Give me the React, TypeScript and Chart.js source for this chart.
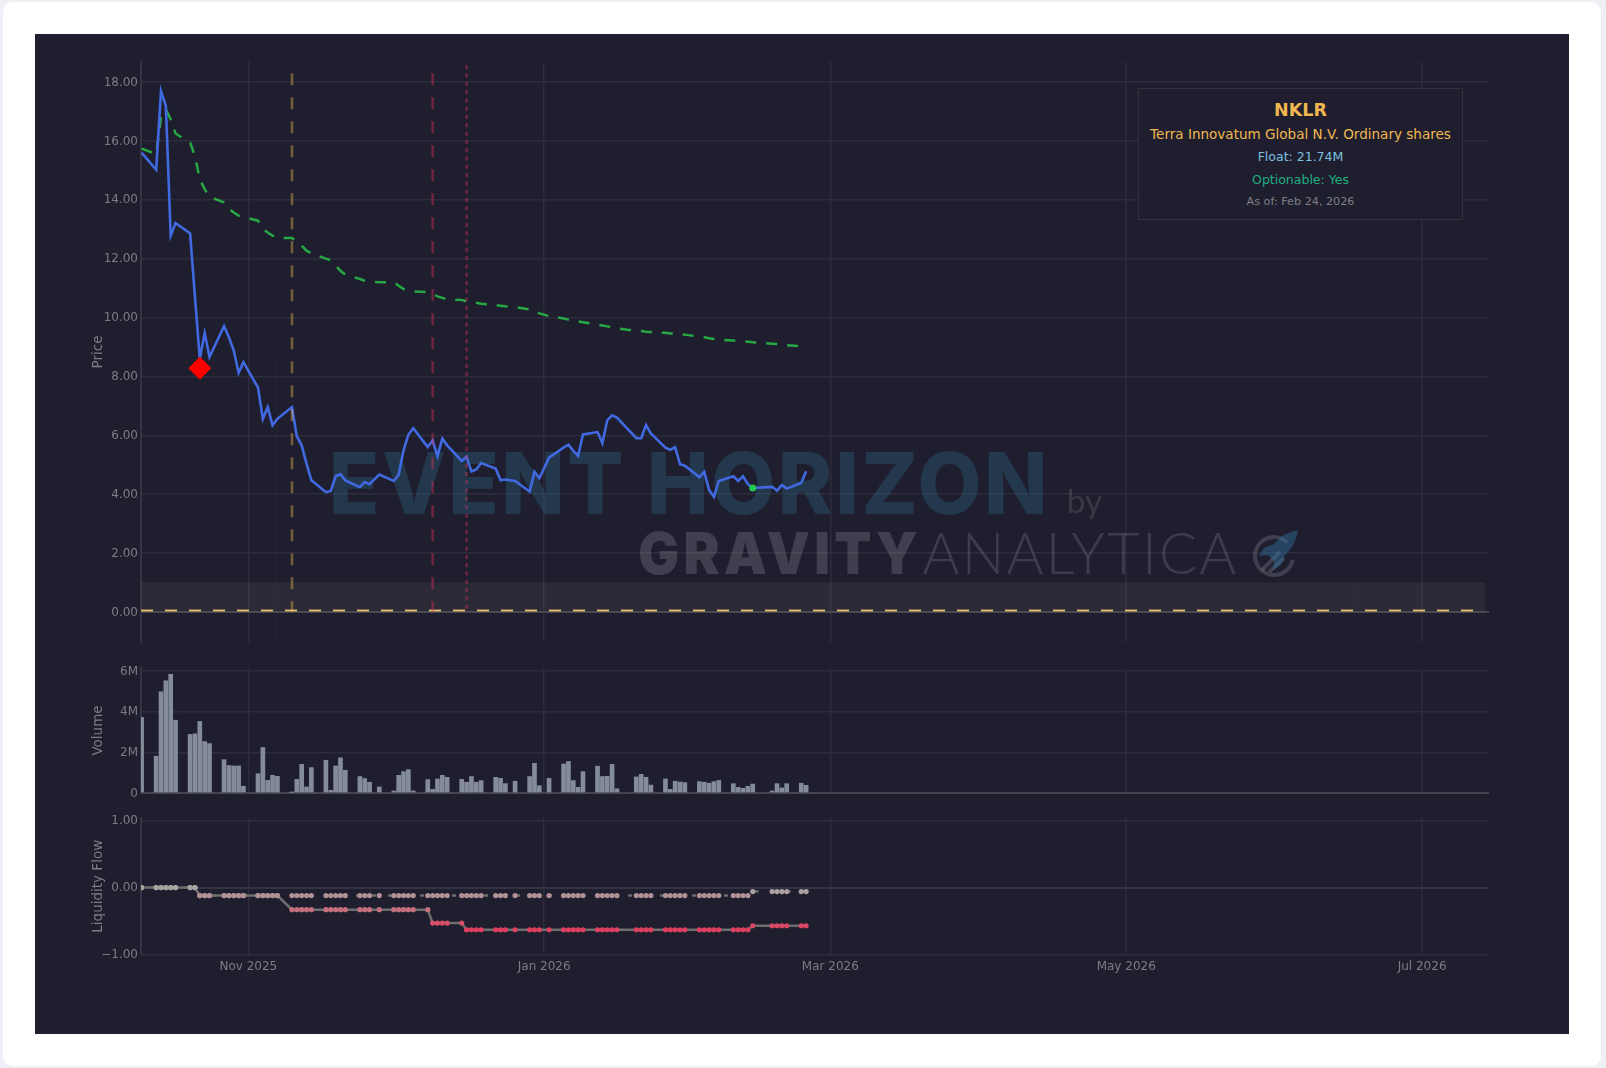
import React, { useEffect, useRef } from "react";
import { Chart, registerables } from "chart.js";

Chart.register(...registerables);

const FONT = '"DejaVu Sans", sans-serif';
const BG = "#1e1e2e";
const GRID = "#2c2c3c";
const TICK = "#7c7c88";

const dates = [
  "2025-10-10","2025-10-13","2025-10-14","2025-10-15","2025-10-16","2025-10-17","2025-10-20","2025-10-21","2025-10-22","2025-10-23","2025-10-24","2025-10-27","2025-10-28","2025-10-29","2025-10-30","2025-10-31",
  "2025-11-03","2025-11-04","2025-11-05","2025-11-06","2025-11-07","2025-11-10","2025-11-11","2025-11-12","2025-11-13","2025-11-14","2025-11-17","2025-11-18","2025-11-19","2025-11-20","2025-11-21","2025-11-24","2025-11-25","2025-11-26","2025-11-28",
  "2025-12-01","2025-12-02","2025-12-03","2025-12-04","2025-12-05","2025-12-08","2025-12-09","2025-12-10","2025-12-11","2025-12-12","2025-12-15","2025-12-16","2025-12-17","2025-12-18","2025-12-19","2025-12-22","2025-12-23","2025-12-24","2025-12-26","2025-12-29","2025-12-30","2025-12-31",
  "2026-01-02","2026-01-05","2026-01-06","2026-01-07","2026-01-08","2026-01-09","2026-01-12","2026-01-13","2026-01-14","2026-01-15","2026-01-16","2026-01-20","2026-01-21","2026-01-22","2026-01-23","2026-01-26","2026-01-27","2026-01-28","2026-01-29","2026-01-30",
  "2026-02-02","2026-02-03","2026-02-04","2026-02-05","2026-02-06","2026-02-09","2026-02-10","2026-02-11","2026-02-12","2026-02-13","2026-02-17","2026-02-18","2026-02-19","2026-02-20","2026-02-23","2026-02-24",
];

const priceValues = [
  15.60,15.02,17.69,17.19,12.78,13.21,12.86,10.70,8.60,9.47,8.66,9.71,9.33,8.88,8.12,8.49,
  7.62,6.56,6.96,6.34,6.56,6.96,5.97,5.66,5.04,4.47,4.07,4.11,4.61,4.68,4.47,4.24,4.41,4.34,4.67,
  4.45,4.66,5.49,6.02,6.24,5.60,5.83,5.29,5.89,5.66,5.13,5.27,4.77,4.84,5.06,4.87,4.47,4.50,4.45,4.09,4.76,4.54,
  5.24,5.58,5.68,5.47,5.30,6.03,6.11,5.74,6.51,6.68,6.60,5.90,5.90,6.35,6.06,5.58,5.51,5.60,5.02,4.97,
  4.58,4.76,4.14,3.91,4.45,4.61,4.45,4.61,4.34,4.21,4.25,4.12,4.31,4.19,4.38,4.78,
];

const trendValues = [
  15.74,15.55,16.8,17.07,16.73,16.25,15.94,15.49,14.70,14.36,14.10,13.91,13.70,13.57,13.46,13.42,
  13.29,13.0,12.89,12.78,12.70,12.70,12.59,12.44,12.27,12.18,12.0,11.95,11.76,11.59,11.46,11.31,11.25,11.22,11.20,
  11.20,11.08,10.97,10.92,10.89,10.86,10.80,10.72,10.67,10.62,10.60,10.55,10.53,10.50,10.47,10.42,10.40,10.38,10.35,10.28,10.24,10.14,
  10.05,9.97,9.93,9.90,9.87,9.84,9.76,9.73,9.70,9.67,9.63,9.55,9.54,9.52,9.51,9.48,9.46,9.45,9.43,9.42,
  9.35,9.33,9.30,9.27,9.25,9.22,9.21,9.19,9.18,9.16,9.11,9.10,9.08,9.06,9.03,8.99,
];

const volumeMillions = [
  3.72,1.81,4.98,5.52,5.84,3.58,2.88,2.91,3.52,2.53,2.43,1.64,1.35,1.33,1.33,0.33,
  0.95,2.24,0.62,0.87,0.82,0.03,0.67,1.41,0.30,1.25,1.61,0.13,1.33,1.73,1.12,0.81,0.71,0.53,0.30,
  0.10,0.87,1.05,1.15,0.10,0.66,0.18,0.69,0.87,0.77,0.67,0.53,0.81,0.53,0.61,0.77,0.72,0.46,0.58,0.81,1.46,0.36,
  0.72,1.43,1.55,0.61,0.28,1.05,1.32,0.81,0.82,1.41,0.21,0.79,0.92,0.77,0.39,0.69,0.18,0.58,0.54,0.51,
  0.56,0.53,0.48,0.56,0.62,0.46,0.28,0.23,0.33,0.44,0.10,0.46,0.25,0.46,0.48,0.38,
];

const flowLower = [
  0,0,0,0,0,0,0,0,-0.12,-0.12,-0.12,-0.12,-0.12,-0.12,-0.12,-0.12,
  -0.12,-0.12,-0.12,-0.12,-0.12,-0.33,-0.33,-0.33,-0.33,-0.33,-0.33,-0.33,-0.33,-0.33,-0.33,-0.33,-0.33,-0.33,-0.33,
  -0.33,-0.33,-0.33,-0.33,-0.33,-0.33,-0.53,-0.53,-0.53,-0.53,-0.53,-0.63,-0.63,-0.63,-0.63,-0.63,-0.63,-0.63,-0.63,-0.63,-0.63,-0.63,
  -0.63,-0.63,-0.63,-0.63,-0.63,-0.63,-0.63,-0.63,-0.63,-0.63,-0.63,-0.63,-0.63,-0.63,-0.63,-0.63,-0.63,-0.63,-0.63,-0.63,
  -0.63,-0.63,-0.63,-0.63,-0.63,-0.63,-0.63,-0.63,-0.63,-0.57,-0.57,-0.57,-0.57,-0.57,-0.57,-0.57,
];

const flowUpper = [
  0,0,0,0,0,0,0,0,-0.12,-0.12,-0.12,-0.12,-0.12,-0.12,-0.12,-0.12,
  -0.12,-0.12,-0.12,-0.12,-0.12,-0.12,-0.12,-0.12,-0.12,-0.12,-0.12,-0.12,-0.12,-0.12,-0.12,-0.12,-0.12,-0.12,-0.12,
  -0.12,-0.12,-0.12,-0.12,-0.12,-0.12,-0.12,-0.12,-0.12,-0.12,-0.12,-0.12,-0.12,-0.12,-0.12,-0.12,-0.12,-0.12,-0.12,-0.12,-0.12,-0.12,
  -0.12,-0.12,-0.12,-0.12,-0.12,-0.12,-0.12,-0.12,-0.12,-0.12,-0.12,-0.12,-0.12,-0.12,-0.12,-0.12,-0.12,-0.12,-0.12,-0.12,
  -0.12,-0.12,-0.12,-0.12,-0.12,-0.12,-0.12,-0.12,-0.12,-0.06,-0.06,-0.06,-0.06,-0.06,-0.06,-0.06,
];

const xTickDates = ["2025-11-01", "2026-01-01", "2026-03-01", "2026-05-01", "2026-07-01"];
const xTickLabels = ["Nov 2025", "Jan 2026", "Mar 2026", "May 2026", "Jul 2026"];
const priceTicks = [0, 2, 4, 6, 8, 10, 12, 14, 16, 18];
const volumeTicks = [0, 2, 4, 6];
const flowTicks = [-1, 0, 1];

const goldEventDate = "2025-11-10";
const redDashedEventDate = "2025-12-09";
const redDottedEventDate = "2025-12-16";
const signalDate = "2025-10-22";
const signalPrice = 8.28;
const latestMarkDate = "2026-02-13";
const latestMarkPrice = 4.21;
const lowPriceBandTop = 1;
const referenceLevel = 0.05;
const referenceLineEnd = "2026-07-12";

const ts = (d: string) => Date.parse(d + "T00:00:00Z");
const X_MIN = Date.parse("2025-10-09T21:00:00Z");
const X_MAX = Date.parse("2026-07-14T19:00:00Z");

const pts = (vals: number[]) => vals.map((y, i) => ({ x: ts(dates[i]), y }));

function flowColor(v: number) {
  const t = Math.min(1, Math.abs(v) / 0.63);
  const mix = (a: number, b: number) => Math.round(a + (b - a) * t);
  return `rgb(${mix(165, 224)},${mix(165, 62)},${mix(160, 94)})`;
}

function fitText(
  ctx: CanvasRenderingContext2D,
  text: string,
  font: string,
  x0: number,
  x1: number,
  y0: number,
  y1: number,
  fill: string,
  spacing = "0px",
) {
  ctx.save();
  ctx.font = font;
  (ctx as any).letterSpacing = spacing;
  ctx.textBaseline = "alphabetic";
  ctx.textAlign = "left";
  const m = ctx.measureText(text);
  const w = m.actualBoundingBoxRight + m.actualBoundingBoxLeft;
  const h = m.actualBoundingBoxAscent + m.actualBoundingBoxDescent;
  ctx.translate(x0, y0);
  ctx.scale((x1 - x0) / w, (y1 - y0) / h);
  ctx.fillStyle = fill;
  ctx.fillText(text, m.actualBoundingBoxLeft, m.actualBoundingBoxAscent);
  ctx.restore();
}

const CANVAS_LEFT = 35;
const CANVAS_WIDTH = 1534;
const PRICE_TOP = 50;

const watermark = {
  id: "watermark",
  beforeDatasetsDraw(chart: any) {
    const c: CanvasRenderingContext2D = chart.ctx;
    c.save();
    c.translate(-CANVAS_LEFT, -PRICE_TOP);
    c.strokeStyle = "rgba(255,255,255,0.022)";
    c.lineWidth = 1;
    c.beginPath();
    c.moveTo(276.5, 356);
    c.lineTo(276.5, 642);
    c.moveTo(1354.5, 356);
    c.lineTo(1354.5, 642);
    c.stroke();
    fitText(c, "EVENT HORIZON", '800 100px "Inter"', 333, 1043, 451, 515, "rgba(50,120,150,0.3)", "3px");
    fitText(c, "by", '100px "Lato"', 1069, 1102, 489, 518, "rgba(160,160,175,0.2)");
    fitText(c, "GRAVITY", '900 100px "Inter"', 640, 917, 532, 575, "rgba(170,170,185,0.24)", "8px");
    fitText(c, "ANALYTICA", '300 100px "Lato"', 923, 1236, 532, 575, "rgba(170,170,185,0.22)", "4px");
    // logo mark
    c.strokeStyle = "rgba(170,170,185,0.24)";
    c.lineWidth = 4;
    c.beginPath();
    c.arc(1274, 556, 19, 0.2, Math.PI * 1.75);
    c.stroke();
    c.beginPath();
    c.moveTo(1262, 570);
    c.lineTo(1280, 552);
    c.moveTo(1269, 572);
    c.lineTo(1284, 558);
    c.stroke();
    c.fillStyle = "rgba(50,120,170,0.42)";
    c.beginPath();
    c.moveTo(1298, 530);
    c.quadraticCurveTo(1284, 532, 1274, 544);
    c.lineTo(1264, 548);
    c.lineTo(1259, 556);
    c.lineTo(1268, 555);
    c.lineTo(1274, 561);
    c.lineTo(1273, 570);
    c.lineTo(1281, 565);
    c.lineTo(1285, 555);
    c.quadraticCurveTo(1296, 545, 1298, 530);
    c.fill();
    c.restore();
  },
};

function xScale(showLabels: boolean, bottomHeight: number) {
  return {
    type: "linear",
    min: X_MIN,
    max: X_MAX,
    offset: false,
    border: { display: false },
    grid: { color: GRID, lineWidth: 1.5, drawTicks: false, offset: false },
    afterBuildTicks: (s: any) => {
      s.ticks = xTickDates.map((d) => ({ value: ts(d) }));
    },
    afterFit: (s: any) => {
      s.height = bottomHeight;
    },
    ticks: {
      display: showLabels,
      autoSkip: false,
      maxRotation: 0,
      color: TICK,
      padding: 5,
      font: { family: FONT, size: 12 },
      callback: (_: any, i: number) => xTickLabels[i],
    },
  };
}

function yScale(
  title: string,
  min: number,
  max: number,
  values: number[],
  format: (v: number) => string,
  zeroColor: string,
  zeroWidth: number,
) {
  return {
    type: "linear",
    min,
    max,
    border: { display: true, color: "#343444", width: 2 },
    title: { display: true, text: title, color: TICK, font: { family: FONT, size: 13.5 }, padding: 0 },
    grid: {
      drawTicks: false,
      color: (c: any) => (c.tick && c.tick.value === 0 ? zeroColor : GRID),
      lineWidth: (c: any) => (c.tick && c.tick.value === 0 ? zeroWidth : 1.5),
    },
    afterBuildTicks: (s: any) => {
      s.ticks = values.map((value) => ({ value }));
    },
    afterFit: (s: any) => {
      s.width = 51;
    },
    ticks: {
      autoSkip: false,
      color: TICK,
      padding: 3,
      labelOffset: 0.5,
      font: { family: FONT, size: 12 },
      callback: (v: number) => format(v),
    },
  };
}

function vertical(date: string, color: string, dash: number[], top: number) {
  return {
    type: "line",
    data: [
      { x: ts(date), y: top },
      { x: ts(date), y: 0 },
    ],
    borderColor: color,
    borderWidth: 2.5,
    borderDash: dash,
    pointRadius: 0,
    order: 1,
  };
}

function baseOptions(padding: any, scales: any) {
  return {
    responsive: false,
    animation: false,
    events: [],
    layout: { padding },
    plugins: { legend: { display: false }, tooltip: { enabled: false } },
    scales,
  };
}

export default function App() {
  const priceRef = useRef<HTMLCanvasElement>(null);
  const volumeRef = useRef<HTMLCanvasElement>(null);
  const flowRef = useRef<HTMLCanvasElement>(null);

  useEffect(() => {
    const price = new Chart(priceRef.current as any, {
      type: "line",
      plugins: [watermark],
      data: {
        datasets: [
          {
            data: [{ x: ts(signalDate), y: signalPrice }],
            borderColor: "#ff0000",
            backgroundColor: "#ff0000",
            pointStyle: "rectRot",
            pointRadius: 11,
            showLine: false,
            order: 0,
          },
          {
            data: [{ x: ts(latestMarkDate), y: latestMarkPrice }],
            borderColor: "#22c84f",
            backgroundColor: "#22c84f",
            pointRadius: 3.5,
            pointBorderWidth: 0,
            showLine: false,
            order: 0,
          },
          vertical(goldEventDate, "rgba(240,184,79,0.42)", [12, 12], 18.3),
          vertical(redDashedEventDate, "rgba(220,50,90,0.42)", [12, 12], 18.3),
          vertical(redDottedEventDate, "rgba(220,50,90,0.42)", [4, 4.3], 18.57),
          {
            data: pts(priceValues),
            borderColor: "#4169e1",
            borderWidth: 2.6,
            pointRadius: 0,
            tension: 0,
            order: 2,
          },
          {
            data: pts(trendValues),
            borderColor: "#28a745",
            borderWidth: 2.5,
            borderDash: [11, 10],
            pointRadius: 0,
            tension: 0,
            order: 3,
          },
          {
            data: [
              { x: X_MIN, y: referenceLevel },
              { x: ts(referenceLineEnd), y: referenceLevel },
            ],
            borderColor: "#edc070",
            borderWidth: 1.8,
            borderDash: [12, 12],
            pointRadius: 0,
            order: 4,
          },
          {
            data: [
              { x: X_MIN, y: lowPriceBandTop },
              { x: ts("2026-07-14"), y: lowPriceBandTop },
            ],
            borderWidth: 0,
            borderColor: "transparent",
            backgroundColor: "rgba(255,235,180,0.06)",
            fill: { value: 0 },
            pointRadius: 0,
            order: 5,
          },
        ] as any,
      },
      options: baseOptions(
        { left: 55, right: 80, top: 11, bottom: 13 },
        {
          x: xScale(false, 0),
          y: yScale("Price", -1.02, 18.68, priceTicks, (v) => v.toFixed(2), "#45454f", 2),
        },
      ) as any,
    });

    const volume = new Chart(volumeRef.current as any, {
      type: "bar",
      data: {
        datasets: [
          {
            data: pts(volumeMillions),
            backgroundColor: "#848c99",
            barThickness: 4,
          },
        ] as any,
      },
      options: baseOptions(
        { left: 55, right: 80, top: 12, bottom: 12 },
        {
          x: xScale(false, 0),
          y: yScale("Volume", 0, 6.15, volumeTicks, (v) => (v === 0 ? "0" : `${v}M`), "#45454f", 2),
        },
      ) as any,
    });

    const flow = new Chart(flowRef.current as any, {
      type: "line",
      data: {
        datasets: [
          {
            data: pts(flowUpper),
            borderColor: "#6e6e6e",
            borderWidth: 2.5,
            borderDash: [4, 12],
            borderDashOffset: 5,
            pointRadius: 2.6,
            pointBorderWidth: 0,
            pointBackgroundColor: flowUpper.map((v) =>
              v === 0 ? flowColor(v) : v === -0.06 ? "rgb(172,160,162)" : "rgb(176,145,150)",
            ),
            order: 1,
          },
          {
            data: pts(flowLower),
            borderColor: "#6e6e6e",
            borderWidth: 2.5,
            pointRadius: 2.6,
            pointBorderWidth: 0,
            pointBackgroundColor: flowLower.map(flowColor),
            order: 2,
          },
        ] as any,
      },
      options: baseOptions(
        { left: 55, right: 80, top: 12, bottom: 0 },
        {
          x: xScale(true, 39.5),
          y: yScale(
            "Liquidity Flow",
            -1,
            1.04,
            flowTicks,
            (v) => (v < 0 ? "\u2212" + Math.abs(v).toFixed(2) : v.toFixed(2)),
            "#333343",
            2,
          ),
        },
      ) as any,
    });

    return () => {
      price.destroy();
      volume.destroy();
      flow.destroy();
    };
  }, []);

  const canvasStyle = (top: number): React.CSSProperties => ({
    position: "absolute",
    left: CANVAS_LEFT,
    top,
    display: "block",
  });

  const line = (top: number, text: string, color: string, size: number, weight = 400) => (
    <div
      style={{
        position: "absolute",
        left: 0,
        width: "100%",
        top,
        textAlign: "center",
        color,
        fontSize: size,
        fontWeight: weight,
        lineHeight: "20px",
        whiteSpace: "nowrap",
      }}
    >
      {text}
    </div>
  );

  return (
    <div
      style={{
        position: "fixed",
        left: 0,
        top: 0,
        width: 1606,
        height: 1068,
        background: "#eff0f5",
        overflow: "hidden",
        fontFamily: FONT,
      }}
    >
      <div
        style={{
          position: "absolute",
          left: 3,
          top: 2,
          width: 1598,
          height: 1064,
          background: "#ffffff",
          borderRadius: 10,
        }}
      />
      <div style={{ position: "absolute", left: 35, top: 34, width: 1534, height: 1000, background: BG }} />
      <canvas ref={priceRef} width={CANVAS_WIDTH} height={605} style={canvasStyle(PRICE_TOP)} />
      <canvas ref={volumeRef} width={CANVAS_WIDTH} height={149} style={canvasStyle(656)} />
      <canvas ref={flowRef} width={CANVAS_WIDTH} height={188} style={canvasStyle(806)} />
      <div
        style={{
          position: "absolute",
          left: 1138,
          top: 88,
          width: 325,
          height: 132,
          boxSizing: "border-box",
          border: "1.5px solid #30303f",
          background: BG,
        }}
      >
        <div style={{ position: "relative", width: "100%", height: "100%" }}>
          {line(11, "NKLR", "#f0b84f", 17.5, 700)}
          {line(35, "Terra Innovatum Global N.V. Ordinary shares", "#f0b84f", 13.55)}
          {line(58, "Float: 21.74M", "#7fc0e0", 12.5)}
          {line(81, "Optionable: Yes", "#1fae7f", 12.5)}
          {line(103, "As of: Feb 24, 2026", "#7f7f85", 11.2)}
        </div>
      </div>
    </div>
  );
}
